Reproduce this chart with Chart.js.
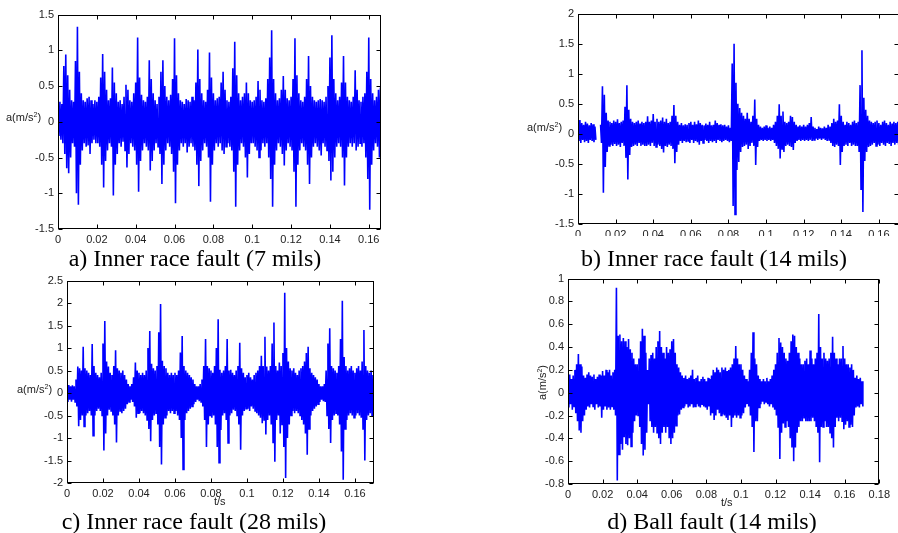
<!doctype html>
<html>
<head>
<meta charset="UTF-8" />
<script src="https://cdn.jsdelivr.net/npm/chart.js"></script>
<style>
  body { margin: 0; width: 898px; height: 533px; background: #fff; overflow: hidden; position: relative; font-family: "Liberation Sans", Arial, sans-serif; }
  canvas { position: absolute; }
  .cap { position: absolute; width: 400px; text-align: center; font: 24px "Liberation Serif", "Times New Roman", serif; line-height: 26px; color: #000; }
  .lab { position: absolute; font-size: 11px; line-height: 13px; color: #222; white-space: nowrap; }
  .lab sup { font-size: 7px; vertical-align: 4px; line-height: 0; }
</style>
</head>
<body>
<canvas id="ca" width="374" height="250" style="left:14px;top:4px"></canvas>
<canvas id="cb" width="365" height="233" style="left:538px;top:3px"></canvas>
<canvas id="cc" width="360" height="240" style="left:22px;top:270px"></canvas>
<canvas id="cd" width="370" height="240" style="left:524px;top:268px"></canvas>

<div class="lab" style="left:6px;top:111px">a(m/s<sup>2</sup>)</div>
<div class="lab" style="left:527px;top:121px">a(m/s<sup>2</sup>)</div>
<div class="lab" style="left:17px;top:383px">a(m/s<sup>2</sup>)</div>
<div class="lab" style="left:525px;top:376px;transform:rotate(-90deg)">a(m/s<sup>2</sup>)</div>
<div class="lab" style="left:214px;top:495px">t/s</div>
<div class="lab" style="left:721px;top:496px">t/s</div>

<div class="cap" style="left:-5px;top:245px">a) Inner race fault (7 mils)</div>
<div class="cap" style="left:514px;top:245px">b) Inner race fault (14 mils)</div>
<div class="cap" style="left:-6px;top:508px">c) Inner race fault (28 mils)</div>
<div class="cap" style="left:512px;top:508px">d) Ball fault (14 mils)</div>

<script>
// sample spacing of the read-off envelope (s); each bin has an upper and a lower peak
const dt = 0.001;

// a) inner race 7 mils
const hiA = [0.22,0.28,0.25,0.78,0.94,0.65,0.45,0.3,0.28,0.85,
  1.33,0.7,0.4,0.3,0.28,0.33,0.35,0.3,0.25,0.3,
  0.28,0.35,0.62,0.95,0.7,0.45,0.3,0.33,0.76,0.55,
  0.4,0.28,0.3,0.25,0.35,0.52,0.45,0.3,0.28,0.4,
  0.55,1.18,0.62,0.38,0.3,0.28,0.35,0.86,0.6,0.4,
  0.3,0.25,0.35,0.7,0.86,0.5,0.35,0.3,0.38,0.6,
  1.17,0.65,0.4,0.3,0.28,0.25,0.32,0.3,0.28,0.35,
  0.3,0.55,1.01,0.6,0.4,0.3,0.28,0.45,0.97,0.62,
  0.4,0.3,0.33,0.35,0.55,0.7,0.45,0.3,0.28,0.35,
  0.75,1.12,0.65,0.4,0.3,0.35,0.4,0.55,0.4,0.3,
  0.28,0.3,0.35,0.57,0.45,0.3,0.28,0.33,0.6,0.9,
  1.28,0.6,0.4,0.3,0.33,0.45,0.64,0.45,0.33,0.3,
  0.35,0.6,1.17,0.65,0.4,0.3,0.28,0.35,0.6,0.92,
  0.5,0.35,0.3,0.28,0.3,0.32,0.3,0.28,0.35,0.5,
  0.9,1.21,0.6,0.4,0.3,0.35,0.55,0.92,0.55,0.35,
  0.3,0.28,0.35,0.72,0.45,0.3,0.28,0.35,0.4,0.7,
  1.18,0.6,0.4,0.3,0.35,0.45,0.48];
const loA = [-0.2,-0.25,-0.3,-0.45,-0.65,-0.72,-0.5,-0.3,-0.35,-1.0,
  -1.16,-0.6,-0.4,-0.3,-0.35,-0.33,-0.45,-0.3,-0.25,-0.3,
  -0.3,-0.35,-0.6,-0.92,-0.55,-0.4,-0.3,-0.35,-1.03,-0.6,
  -0.45,-0.3,-0.35,-0.28,-0.4,-0.64,-0.45,-0.3,-0.35,-0.4,
  -0.6,-0.98,-0.55,-0.4,-0.3,-0.35,-0.4,-0.68,-0.55,-0.4,
  -0.3,-0.35,-0.45,-0.87,-0.6,-0.4,-0.3,-0.35,-0.45,-0.7,
  -1.14,-0.6,-0.4,-0.3,-0.35,-0.3,-0.43,-0.35,-0.3,-0.35,
  -0.4,-0.6,-0.9,-0.55,-0.4,-0.3,-0.35,-0.5,-1.12,-0.6,
  -0.4,-0.3,-0.35,-0.3,-0.4,-0.45,-0.35,-0.3,-0.35,-0.4,
  -0.7,-1.19,-0.6,-0.4,-0.3,-0.35,-0.5,-0.78,-0.45,-0.3,
  -0.3,-0.35,-0.4,-0.5,-0.4,-0.3,-0.35,-0.3,-0.5,-0.8,
  -1.19,-0.6,-0.4,-0.3,-0.35,-0.45,-0.61,-0.4,-0.3,-0.35,
  -0.4,-0.7,-1.19,-0.6,-0.4,-0.3,-0.35,-0.4,-0.6,-0.87,
  -0.5,-0.35,-0.3,-0.35,-0.4,-0.47,-0.3,-0.35,-0.4,-0.55,
  -0.82,-0.7,-0.5,-0.35,-0.3,-0.35,-0.5,-0.89,-0.5,-0.35,
  -0.3,-0.35,-0.3,-0.4,-0.35,-0.3,-0.35,-0.3,-0.5,-0.8,
  -1.23,-0.6,-0.4,-0.3,-0.35,-0.5,-0.45];

// b) inner race 14 mils (null = gap in the trace)
const hiB = [0.2,0.23,0.18,0.15,0.2,0.17,0.14,0.18,0.16,0.12,
  null,null,0.15,0.79,0.65,0.35,0.22,0.2,0.18,0.22,
  0.2,0.24,0.18,0.2,0.22,0.45,0.81,0.4,0.25,0.2,
  0.18,0.2,0.22,0.17,0.2,0.18,0.2,0.29,0.2,0.22,
  0.33,0.2,0.25,0.2,0.22,0.27,0.2,0.25,0.18,0.2,
  0.3,0.48,0.3,0.2,0.15,0.18,0.14,0.16,0.15,0.18,
  0.2,0.15,0.2,0.16,0.22,0.18,0.15,0.14,0.17,0.15,
  0.2,0.14,0.15,0.22,0.18,0.15,0.16,0.14,0.15,0.12,
  0.14,0.1,1.17,1.5,0.85,0.5,0.43,0.35,0.3,0.25,
  0.35,0.25,0.2,0.3,0.57,0.25,0.15,0.12,0.1,0.12,
  0.14,0.1,0.12,0.1,0.15,0.2,0.3,0.49,0.3,0.37,
  0.2,0.18,0.2,0.3,0.28,0.2,0.15,0.12,0.14,0.12,
  0.15,0.12,0.15,0.18,0.28,0.12,0.1,0.08,0.12,0.1,
  0.09,0.12,0.1,0.15,0.12,0.18,0.25,0.2,0.22,0.49,
  0.3,0.2,0.15,0.2,0.18,0.15,0.2,0.22,0.18,0.2,
  0.81,1.39,0.6,0.4,0.3,0.22,0.2,0.18,0.2,0.22,
  0.18,0.15,0.2,0.22,0.18,0.15,0.2,0.17,0.2,0.18,0.2];
const loB = [-0.12,-0.15,-0.1,-0.14,-0.12,-0.15,-0.1,-0.12,-0.14,-0.1,
  null,null,-0.15,-0.98,-0.55,-0.3,-0.2,-0.18,-0.2,-0.17,
  -0.2,-0.18,-0.22,-0.15,-0.2,-0.4,-0.76,-0.35,-0.22,-0.2,
  -0.18,-0.2,-0.15,-0.2,-0.18,-0.2,-0.2,-0.18,-0.2,-0.15,
  -0.2,-0.22,-0.18,-0.2,-0.25,-0.31,-0.2,-0.22,-0.18,-0.2,
  -0.25,-0.49,-0.3,-0.18,-0.12,-0.15,-0.12,-0.14,-0.12,-0.15,
  -0.1,-0.15,-0.12,-0.14,-0.18,-0.12,-0.15,-0.1,-0.12,-0.15,
  -0.12,-0.14,-0.12,-0.15,-0.1,-0.12,-0.14,-0.12,-0.1,-0.12,
  -0.14,-0.12,-1.2,-1.34,-0.6,-0.47,-0.3,-0.22,-0.2,-0.18,
  -0.25,-0.2,-0.15,-0.2,-0.52,-0.22,-0.12,-0.1,-0.12,-0.1,
  -0.12,-0.1,-0.12,-0.1,-0.15,-0.2,-0.25,-0.41,-0.25,-0.3,
  -0.2,-0.18,-0.2,-0.22,-0.27,-0.15,-0.12,-0.1,-0.12,-0.1,
  -0.12,-0.1,-0.12,-0.1,-0.12,-0.1,-0.08,-0.1,-0.08,-0.1,
  -0.08,-0.1,-0.12,-0.1,-0.15,-0.2,-0.22,-0.18,-0.2,-0.52,
  -0.3,-0.2,-0.18,-0.2,-0.15,-0.2,-0.18,-0.2,-0.2,-0.3,
  -0.92,-1.3,-0.45,-0.3,-0.22,-0.2,-0.18,-0.15,-0.2,-0.18,
  -0.2,-0.15,-0.18,-0.2,-0.15,-0.17,-0.2,-0.15,-0.18,-0.15,-0.18];

// c) inner race 28 mils
const hiC = [0.15,0.18,0.15,0.17,0.15,0.3,0.59,0.55,0.5,1.03,
  0.55,0.5,0.45,0.4,1.09,0.6,0.45,0.4,0.35,0.45,
  1.1,1.6,0.7,0.59,0.45,0.4,0.6,0.95,0.55,0.5,
  0.45,0.5,0.4,0.3,0.2,0.15,0.2,0.35,0.68,0.5,
  0.45,0.4,0.45,0.4,0.5,1.0,1.38,0.65,0.55,0.5,
  0.6,1.35,1.98,0.72,0.6,0.55,0.45,0.4,0.45,0.4,
  0.45,0.4,0.5,0.9,1.27,0.6,0.5,0.45,0.4,0.35,
  0.3,0.2,0.15,0.15,0.2,0.3,0.6,1.2,0.6,0.55,
  0.5,0.45,0.6,1.0,1.64,0.52,0.45,0.5,0.6,1.2,
  0.5,0.52,0.45,0.4,0.5,0.6,1.12,0.55,0.45,0.35,
  0.4,0.45,0.35,0.3,0.4,0.45,0.5,0.6,0.83,0.6,
  1.25,0.59,0.5,0.6,1.1,1.57,0.6,0.5,0.68,0.6,
  0.89,2.23,1.0,0.7,0.55,0.5,0.55,0.45,0.4,0.5,
  0.55,0.6,0.7,0.89,1.03,0.55,0.45,0.4,0.35,0.3,
  0.2,0.15,0.15,0.2,0.5,1.1,1.44,0.6,0.55,0.5,
  0.45,0.6,1.2,2.05,0.8,0.6,0.5,0.55,0.6,0.5,
  0.45,0.55,0.6,0.5,0.7,1.4,0.6,0.5,0.45,0.5,0.4];
const loC = [-0.2,-0.15,-0.19,-0.15,-0.2,-0.3,-0.74,-0.6,-0.5,-0.74,
  -0.5,-0.45,-0.4,-0.5,-0.95,-0.5,-0.4,-0.35,-0.4,-0.5,
  -1.28,-0.9,-0.5,-0.37,-0.4,-0.5,-0.7,-1.1,-0.5,-0.4,
  -0.45,-0.4,-0.35,-0.25,-0.2,-0.15,-0.2,-0.3,-0.55,-0.45,
  -0.45,-0.4,-0.45,-0.5,-0.6,-0.8,-1.07,-0.6,-0.5,-0.45,
  -0.7,-1.2,-1.59,-0.7,-0.55,-0.5,-0.4,-0.45,-0.4,-0.45,
  -0.4,-0.5,-0.6,-1.0,-1.7,-0.6,-0.45,-0.4,-0.35,-0.3,
  -0.25,-0.2,-0.15,-0.18,-0.2,-0.3,-0.6,-1.2,-0.7,-0.5,
  -0.55,-0.5,-0.7,-1.2,-1.55,-0.82,-0.5,-0.45,-0.6,-1.11,
  -0.5,-0.45,-0.37,-0.4,-0.5,-0.7,-1.26,-0.5,-0.4,-0.35,
  -0.35,-0.4,-0.3,-0.35,-0.4,-0.45,-0.5,-0.55,-0.67,-0.6,
  -0.92,-0.6,-0.5,-0.7,-1.1,-1.53,-0.6,-0.5,-0.9,-0.7,
  -1.2,-1.89,-1.0,-0.7,-0.5,-0.4,-0.45,-0.4,-0.45,-0.5,
  -0.6,-0.7,-0.9,-1.37,-0.8,-0.5,-0.4,-0.35,-0.3,-0.25,
  -0.2,-0.15,-0.18,-0.2,-0.5,-0.8,-1.11,-0.6,-0.5,-0.45,
  -0.5,-0.7,-1.3,-1.93,-0.8,-0.6,-0.5,-0.45,-0.5,-0.55,
  -0.5,-0.45,-0.5,-0.55,-0.8,-1.5,-0.6,-0.5,-0.45,-0.5,-0.45];

// d) ball fault 14 mils
const hiD = [0.15,0.16,0.12,0.15,0.2,0.25,0.34,0.25,0.23,0.15,
  0.13,0.16,0.18,0.15,0.14,0.16,0.12,0.14,0.16,0.15,
  0.19,0.15,0.2,0.18,0.2,0.15,0.18,0.2,0.92,0.5,
  0.51,0.45,0.48,0.45,0.4,0.47,0.38,0.35,0.3,0.25,
  0.25,0.3,0.45,0.56,0.5,0.35,0.2,0.3,0.33,0.35,
  0.3,0.4,0.45,0.54,0.4,0.35,0.3,0.4,0.35,0.38,
  0.45,0.47,0.35,0.25,0.22,0.18,0.15,0.13,0.15,0.12,
  0.13,0.15,0.2,0.12,0.13,0.15,0.1,0.12,0.14,0.12,
  0.1,0.13,0.12,0.15,0.2,0.18,0.22,0.2,0.18,0.22,
  0.2,0.22,0.19,0.2,0.22,0.25,0.3,0.41,0.3,0.25,
  0.25,0.2,0.15,0.12,0.1,0.2,0.35,0.53,0.3,0.25,
  0.15,0.12,0.1,0.12,0.1,0.13,0.1,0.12,0.15,0.2,
  0.25,0.35,0.48,0.44,0.4,0.35,0.3,0.28,0.35,0.45,
  0.51,0.5,0.4,0.35,0.3,0.25,0.25,0.28,0.3,0.25,
  0.37,0.3,0.25,0.3,0.35,0.69,0.4,0.3,0.35,0.3,
  0.28,0.3,0.35,0.49,0.35,0.3,0.25,0.3,0.3,0.41,
  0.3,0.25,0.25,0.22,0.25,0.2,0.13,0.15,0.12,0.13,0.1];
const loD = [-0.13,-0.1,-0.15,-0.12,-0.18,-0.25,-0.33,-0.35,-0.25,-0.2,
  -0.15,-0.12,-0.13,-0.1,-0.12,-0.15,-0.1,-0.13,-0.12,-0.22,
  -0.15,-0.12,-0.15,-0.13,-0.15,-0.12,-0.15,-0.2,-0.77,-0.54,
  -0.45,-0.5,-0.39,-0.45,-0.46,-0.4,-0.47,-0.35,-0.25,-0.2,
  -0.2,-0.3,-0.45,-0.55,-0.5,-0.35,-0.1,-0.25,-0.3,-0.35,
  -0.3,-0.35,-0.4,-0.45,-0.35,-0.3,-0.35,-0.3,-0.4,-0.45,
  -0.4,-0.35,-0.29,-0.2,-0.19,-0.15,-0.13,-0.12,-0.1,-0.13,
  -0.12,-0.1,-0.13,-0.12,-0.1,-0.12,-0.13,-0.1,-0.12,-0.13,
  -0.15,-0.12,-0.2,-0.18,-0.24,-0.2,-0.15,-0.18,-0.2,-0.19,
  -0.2,-0.22,-0.24,-0.2,-0.3,-0.22,-0.2,-0.22,-0.2,-0.22,
  -0.2,-0.18,-0.13,-0.1,-0.12,-0.2,-0.3,-0.52,-0.25,-0.25,
  -0.13,-0.1,-0.08,-0.1,-0.08,-0.1,-0.12,-0.1,-0.13,-0.15,
  -0.2,-0.3,-0.58,-0.35,-0.27,-0.3,-0.25,-0.3,-0.4,-0.48,
  -0.6,-0.48,-0.35,-0.3,-0.25,-0.25,-0.22,-0.25,-0.25,-0.25,
  -0.25,-0.22,-0.25,-0.3,-0.35,-0.61,-0.3,-0.3,-0.25,-0.3,
  -0.3,-0.35,-0.4,-0.48,-0.3,-0.22,-0.25,-0.22,-0.25,-0.32,
  -0.28,-0.25,-0.3,-0.28,-0.3,-0.2,-0.13,-0.12,-0.13,-0.1,-0.12];

// tick values
const xTicks16 = [0, 0.02, 0.04, 0.06, 0.08, 0.1, 0.12, 0.14, 0.16];
const xTicks18 = [0, 0.02, 0.04, 0.06, 0.08, 0.1, 0.12, 0.14, 0.16, 0.18];
const yTicksA = [-1.5, -1, -0.5, 0, 0.5, 1, 1.5];
const yTicksB = [-1.5, -1, -0.5, 0, 0.5, 1, 1.5, 2];
const yTicksC = [-2, -1.5, -1, -0.5, 0, 0.5, 1, 1.5, 2, 2.5];
const yTicksD = [-0.8, -0.6, -0.4, -0.2, 0, 0.2, 0.4, 0.6, 0.8, 1];

function series(hi, lo) {
    const pts = [];
    hi.forEach((h, i) => {
        pts.push({ x: i * dt, y: h });
        pts.push({ x: (i + 0.5) * dt, y: lo[i] });
    });
    return pts;
}

// matlab style box with inward ticks on all four sides
const frame = {
    id: "frame",
    afterDatasetsDraw(chart) {
        const { ctx, chartArea: a, scales } = chart;
        const L = Math.round(a.left) + 0.5, R = Math.round(a.right) - 0.5;
        const T = Math.round(a.top) + 0.5, B = Math.round(a.bottom) - 0.5;
        ctx.save();
        ctx.strokeStyle = "#000";
        ctx.lineWidth = 1;
        ctx.strokeRect(L, T, R - L, B - T);
        ctx.beginPath();
        scales.x.ticks.forEach((t) => {
            const p = Math.round(scales.x.getPixelForValue(t.value)) + 0.5;
            ctx.moveTo(p, B); ctx.lineTo(p, B - 4);
            ctx.moveTo(p, T); ctx.lineTo(p, T + 4);
        });
        scales.y.ticks.forEach((t) => {
            const p = Math.round(scales.y.getPixelForValue(t.value)) + 0.5;
            ctx.moveTo(L, p); ctx.lineTo(L + 4, p);
            ctx.moveTo(R, p); ctx.lineTo(R - 4, p);
        });
        ctx.stroke();
        ctx.restore();
    },
};

const tickFont = { family: "'Liberation Sans', Arial, sans-serif", size: 11 };

function draw(id, hi, lo, xMax, yMin, yMax, xTicks, yTicks, box) {
    new Chart(document.getElementById(id), {
        type: "line",
        data: {
            datasets: [{
                data: series(hi, lo),
                borderColor: "#0000ff",
                borderWidth: 1.6,
                pointRadius: 0,
                tension: 0,
                spanGaps: false,
            }],
        },
        options: {
            responsive: false,
            animation: false,
            events: [],
            layout: { padding: { top: box.top, right: box.right, left: 0, bottom: 0 } },
            plugins: { legend: { display: false }, tooltip: { enabled: false } },
            scales: {
                x: {
                    type: "linear", min: 0, max: xMax,
                    grid: { display: false, drawTicks: false },
                    border: { display: false },
                    ticks: { padding: 4, font: tickFont, color: "#222", maxRotation: 0, autoSkip: false, callback: (v) => String(v) },
                    afterBuildTicks: (s) => { s.ticks = xTicks.map((v) => ({ value: v })); },
                    afterFit: (s) => { s.height = box.xh; },
                },
                y: {
                    type: "linear", min: yMin, max: yMax,
                    grid: { display: false, drawTicks: false },
                    border: { display: false },
                    ticks: { padding: 4, font: tickFont, color: "#222", callback: (v) => String(v) },
                    afterBuildTicks: (s) => { s.ticks = yTicks.map((v) => ({ value: v })); },
                    afterFit: (s) => { s.width = box.yw; },
                },
            },
        },
        plugins: [frame],
    });
}

draw("ca", hiA, loA, 0.1663, -1.5, 1.5, xTicks16, yTicksA, { yw: 44, xh: 25, top: 9, right: 7 });
draw("cb", hiB, loB, 0.1707, -1.5, 2, xTicks16, yTicksB, { yw: 40, xh: 12, top: 10, right: 4 });
draw("cc", hiC, loC, 0.1706, -2, 2.5, xTicks16, yTicksC, { yw: 45, xh: 27, top: 10, right: 8 });
draw("cd", hiD, loD, 0.18, -0.8, 1, xTicks18, yTicksD, { yw: 44, xh: 24, top: 10, right: 6 });
</script>
</body>
</html>
